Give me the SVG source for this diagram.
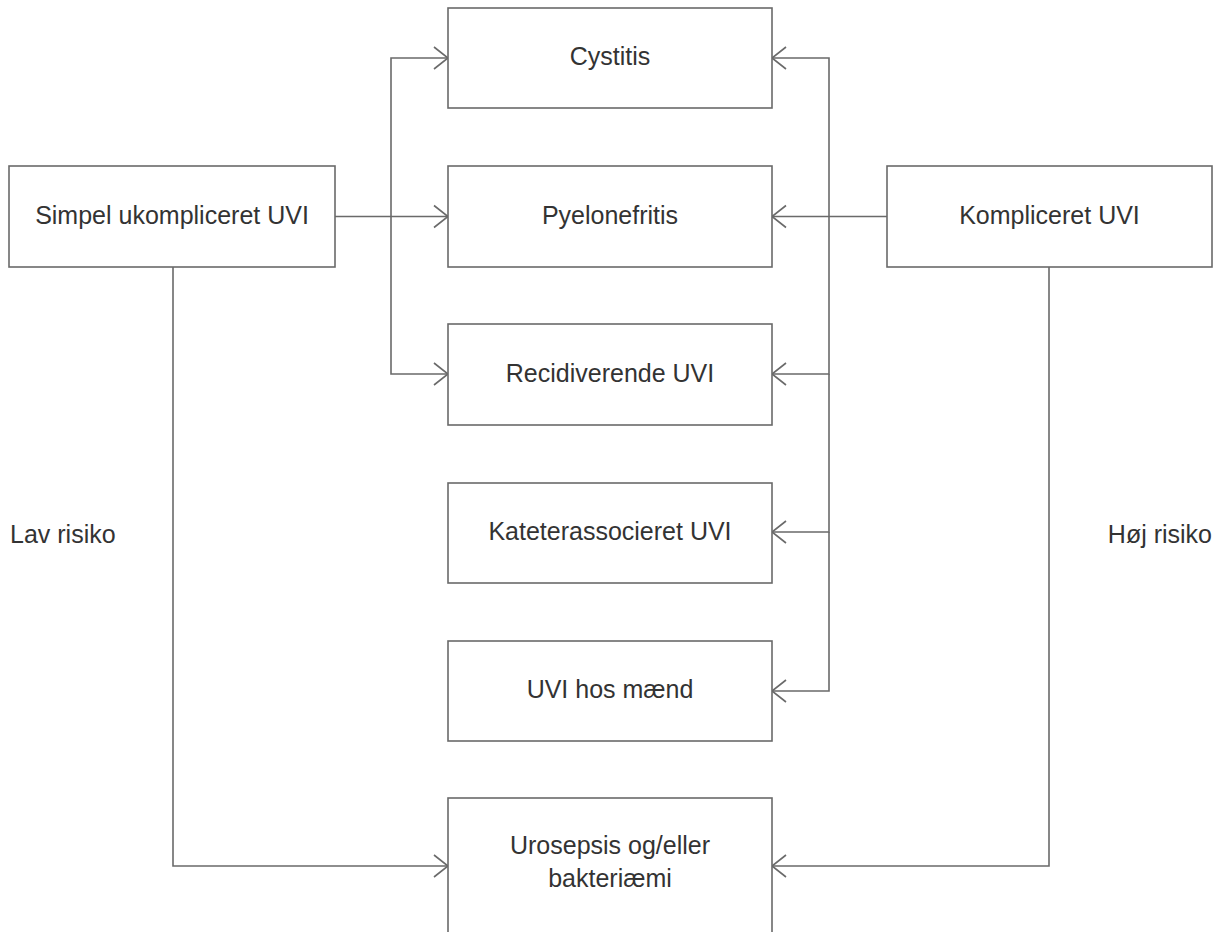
<svg xmlns="http://www.w3.org/2000/svg" width="1225" height="932" viewBox="0 0 1225 932">
<style>
.box{fill:#fff;stroke:#6a6a6a;stroke-width:1.6}
.lbl{font-family:"Liberation Sans",Arial,sans-serif;font-size:25px;fill:#333;text-anchor:middle}
.side{font-family:"Liberation Sans",Arial,sans-serif;font-size:25px;fill:#333}
.con{fill:none;stroke:#6a6a6a;stroke-width:1.6}
</style>
<defs>
<marker id="arr" markerUnits="userSpaceOnUse" markerWidth="20" markerHeight="26" refX="16" refY="12" orient="auto" viewBox="0 0 20 24">
<path d="M2 1 L16 12 L2 23" fill="none" stroke="#6a6a6a" stroke-width="1.6"/>
</marker>
</defs>
<rect width="1225" height="932" fill="#fff"/>
<g id="connectors">
<path class="con" d="M391 216.5 V58 H448" marker-end="url(#arr)"/>
<path class="con" d="M391 216.5 V374 H448" marker-end="url(#arr)"/>
<path class="con" d="M335 216.5 H448" marker-end="url(#arr)"/>
<path class="con" d="M829 216.5 V58 H772" marker-end="url(#arr)"/>
<path class="con" d="M887 216.5 H772" marker-end="url(#arr)"/>
<path class="con" d="M829 216.5 V374 H772" marker-end="url(#arr)"/>
<path class="con" d="M829 374 V532 H772" marker-end="url(#arr)"/>
<path class="con" d="M829 532 V691 H772" marker-end="url(#arr)"/>
<path class="con" d="M173 267 V866 H448" marker-end="url(#arr)"/>
<path class="con" d="M1049 267 V866 H772" marker-end="url(#arr)"/>
</g>
<g id="simpel">
<rect class="box" x="9" y="166" width="326" height="101"/>
<text class="lbl" x="172" y="224">Simpel ukompliceret UVI</text>
</g>
<g id="kompliceret">
<rect class="box" x="887" y="166" width="325" height="101"/>
<text class="lbl" x="1049.5" y="224">Kompliceret UVI</text>
</g>
<g id="cystitis">
<rect class="box" x="448" y="8" width="324" height="100"/>
<text class="lbl" x="610" y="65">Cystitis</text>
</g>
<g id="pyelonefritis">
<rect class="box" x="448" y="166" width="324" height="101"/>
<text class="lbl" x="610" y="224">Pyelonefritis</text>
</g>
<g id="recidiverende">
<rect class="box" x="448" y="324" width="324" height="101"/>
<text class="lbl" x="610" y="382">Recidiverende UVI</text>
</g>
<g id="kateter">
<rect class="box" x="448" y="483" width="324" height="100"/>
<text class="lbl" x="610" y="540">Kateterassocieret UVI</text>
</g>
<g id="maend">
<rect class="box" x="448" y="641" width="324" height="100"/>
<text class="lbl" x="610" y="698">UVI hos mænd</text>
</g>
<g id="urosepsis">
<rect class="box" x="448" y="798" width="324" height="140"/>
<text class="lbl" x="610" y="854">Urosepsis og/eller</text>
<text class="lbl" x="610" y="887">bakteriæmi</text>
</g>
<g id="labels">
<text class="side" x="10" y="543">Lav risiko</text>
<text class="side" x="1212" y="543" text-anchor="end">Høj risiko</text>
</g>
</svg>
